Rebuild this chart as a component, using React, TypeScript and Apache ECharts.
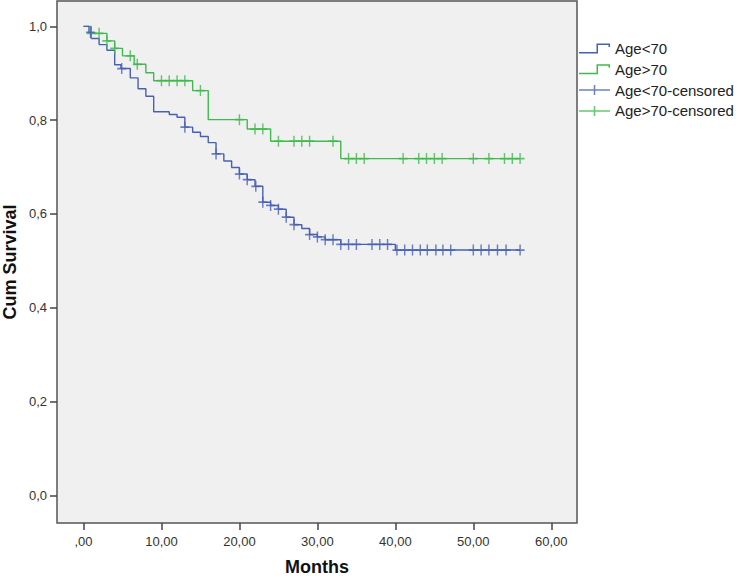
import React, { useEffect, useRef } from "react";
import * as echarts from "echarts";

// ---- Data ----
const X_TICKS = [0, 10, 20, 30, 40, 50, 60];
const Y_TICKS = [0, 0.2, 0.4, 0.6, 0.8, 1.0];

const SERIES_NAMES = ["Age<70", "Age>70", "Age<70-censored", "Age>70-censored"];

// Kaplan-Meier step times and survival after each step
const blueTimes = [0, 0.7, 1.0, 2.0, 3.0, 4.0, 4.8, 6.0, 7.0, 8.0, 9.0, 11.0, 12.0, 13.0, 14.0, 15.0, 16.0, 17.0, 18.0, 19.0, 20.0, 21.0, 22.0, 23.0, 24.0, 25.0, 26.0, 27.0, 28.0, 29.0, 30.0, 31.0, 33.0, 40.0];
const blueSurv = [1.0, 0.987, 0.974, 0.961, 0.949, 0.918, 0.910, 0.890, 0.867, 0.851, 0.818, 0.812, 0.806, 0.785, 0.774, 0.765, 0.752, 0.728, 0.713, 0.699, 0.685, 0.673, 0.659, 0.625, 0.618, 0.610, 0.593, 0.577, 0.569, 0.556, 0.551, 0.545, 0.535, 0.523];
const blueEnd = 56.0;
const blueCensorTimes = [0.9, 4.9, 13.0, 17.0, 20.0, 21.0, 22.1, 23.0, 24.0, 25.0, 26.0, 27.0, 29.0, 30.0, 31.0, 32.0, 33.0, 34.0, 35.0, 37.0, 38.0, 39.0, 40.2, 41.2, 42.2, 43.2, 44.1, 45.2, 46.1, 47.1, 50.0, 51.0, 52.0, 53.1, 54.2, 56.0];

const greenTimes = [0, 1.0, 3.0, 4.0, 5.0, 6.5, 8.0, 9.0, 14.0, 16.0, 21.0, 24.0, 33.0];
const greenSurv = [1.0, 0.985, 0.969, 0.953, 0.937, 0.919, 0.901, 0.884, 0.863, 0.801, 0.781, 0.755, 0.718];
const greenEnd = 56.0;
const greenCensorTimes = [1.0, 2.0, 3.0, 4.0, 6.0, 6.9, 10.0, 11.0, 12.0, 13.0, 15.0, 20.0, 22.0, 23.0, 25.0, 27.0, 28.0, 29.0, 32.0, 34.0, 35.0, 36.0, 41.0, 43.0, 44.0, 45.0, 46.0, 50.0, 52.0, 54.0, 55.0, 56.0];

// ---- Styling ----
const BLUE = "#4760b4";
const GREEN = "#40b94e";
const FONT = '"Liberation Sans", Arial, sans-serif';

const CROSS = "path://M4.2,0H5.8V4.2H10V5.8H5.8V10H4.2V5.8H0V4.2H4.2Z";
const LEGEND_STEP = "path://M0,8.5H17.5V0H31V3.5H29.5V1.5H19V10H0Z";
const LEGEND_CROSS = "path://M0,4.25H14.75V0H16.25V4.25H31V5.75H16.25V10H14.75V5.75H0Z";

function survAt(times: number[], surv: number[], t: number): number {
  let v = surv[0];
  for (let i = 0; i < times.length; i++) {
    if (times[i] <= t) v = surv[i];
  }
  return v;
}

function stepPoints(times: number[], surv: number[], end: number): number[][] {
  const pts = times.map((t, i) => [t, surv[i]]);
  pts.push([end, surv[surv.length - 1]]);
  return pts;
}

function censorPoints(times: number[], surv: number[], cens: number[]): number[][] {
  return cens.map((t) => [t, survAt(times, surv, t)]);
}

export default function App() {
  const ref = useRef<HTMLDivElement>(null);

  useEffect(() => {
    if (!ref.current) return;
    const chart = echarts.init(ref.current, null, { renderer: "svg" });
    const option = {
      animation: false,
      backgroundColor: "#ffffff",
      textStyle: { fontFamily: FONT },
      grid: {
        left: 57,
        right: 167,
        top: 1,
        bottom: 55,
        show: true,
        backgroundColor: "#f0f0f0",
        borderColor: "#555555",
        borderWidth: 1.5,
      },
      xAxis: {
        type: "value",
        min: -3.4,
        max: 63.3,
        axisLine: { show: false, onZero: false },
        splitLine: { show: false },
        axisTick: {
          show: true,
          length: 7,
          customValues: X_TICKS,
          lineStyle: { color: "#444444", width: 1.5 },
        },
        axisLabel: {
          customValues: X_TICKS,
          margin: 12,
          color: "#333333",
          fontSize: 13,
          fontFamily: FONT,
          formatter: (v: number) => (v === 0 ? ",00" : v.toFixed(2).replace(".", ",")),
        },
      },
      yAxis: {
        type: "value",
        min: -0.059,
        max: 1.054,
        axisLine: { show: false, onZero: false },
        splitLine: { show: false },
        axisTick: {
          show: true,
          length: 7,
          customValues: Y_TICKS,
          lineStyle: { color: "#444444", width: 1.5 },
        },
        axisLabel: {
          customValues: Y_TICKS,
          margin: 10,
          color: "#333333",
          fontSize: 13,
          fontFamily: FONT,
          formatter: (v: number) => v.toFixed(1).replace(".", ","),
        },
      },
      legend: {
        orient: "vertical",
        left: 579,
        top: 41,
        padding: 0,
        itemWidth: 31,
        itemHeight: 10,
        itemGap: 5.8,
        selectedMode: false,
        textStyle: { fontSize: 15, lineHeight: 15, color: "#222222", fontFamily: FONT },
        data: [
          { name: SERIES_NAMES[0], icon: LEGEND_STEP },
          { name: SERIES_NAMES[1], icon: LEGEND_STEP },
          { name: SERIES_NAMES[2], icon: LEGEND_CROSS },
          { name: SERIES_NAMES[3], icon: LEGEND_CROSS },
        ],
      },
      graphic: [
        {
          type: "text",
          x: 10,
          y: 262,
          rotation: Math.PI / 2,
          style: {
            text: "Cum Survival",
            font: `bold 18px ${FONT}`,
            fill: "#111111",
            align: "center",
            verticalAlign: "middle",
          },
        },
        {
          type: "text",
          x: 317,
          y: 567,
          style: {
            text: "Months",
            font: `bold 18px ${FONT}`,
            fill: "#111111",
            align: "center",
            verticalAlign: "middle",
          },
        },
      ],
      series: [
        {
          type: "line",
          name: SERIES_NAMES[1],
          data: stepPoints(greenTimes, greenSurv, greenEnd),
          step: "end",
          symbol: "none",
          silent: true,
          color: GREEN,
          lineStyle: { color: GREEN, width: 1.4 },
          z: 2,
        },
        {
          type: "line",
          name: SERIES_NAMES[0],
          data: stepPoints(blueTimes, blueSurv, blueEnd),
          step: "end",
          symbol: "none",
          silent: true,
          color: BLUE,
          lineStyle: { color: BLUE, width: 1.4 },
          z: 3,
        },
        {
          type: "scatter",
          name: SERIES_NAMES[3],
          data: censorPoints(greenTimes, greenSurv, greenCensorTimes),
          symbol: CROSS,
          symbolSize: [9, 11],
          silent: true,
          color: GREEN,
          itemStyle: { color: GREEN },
          z: 4,
        },
        {
          type: "scatter",
          name: SERIES_NAMES[2],
          data: censorPoints(blueTimes, blueSurv, blueCensorTimes),
          symbol: CROSS,
          symbolSize: [9, 11],
          silent: true,
          color: BLUE,
          itemStyle: { color: BLUE },
          z: 5,
        },
      ],
    };
    chart.setOption(option as any);
    return () => chart.dispose();
  }, []);

  return (
    <div
      ref={ref}
      style={{ position: "fixed", left: 0, top: 0, width: 744, height: 578 }}
    />
  );
}
